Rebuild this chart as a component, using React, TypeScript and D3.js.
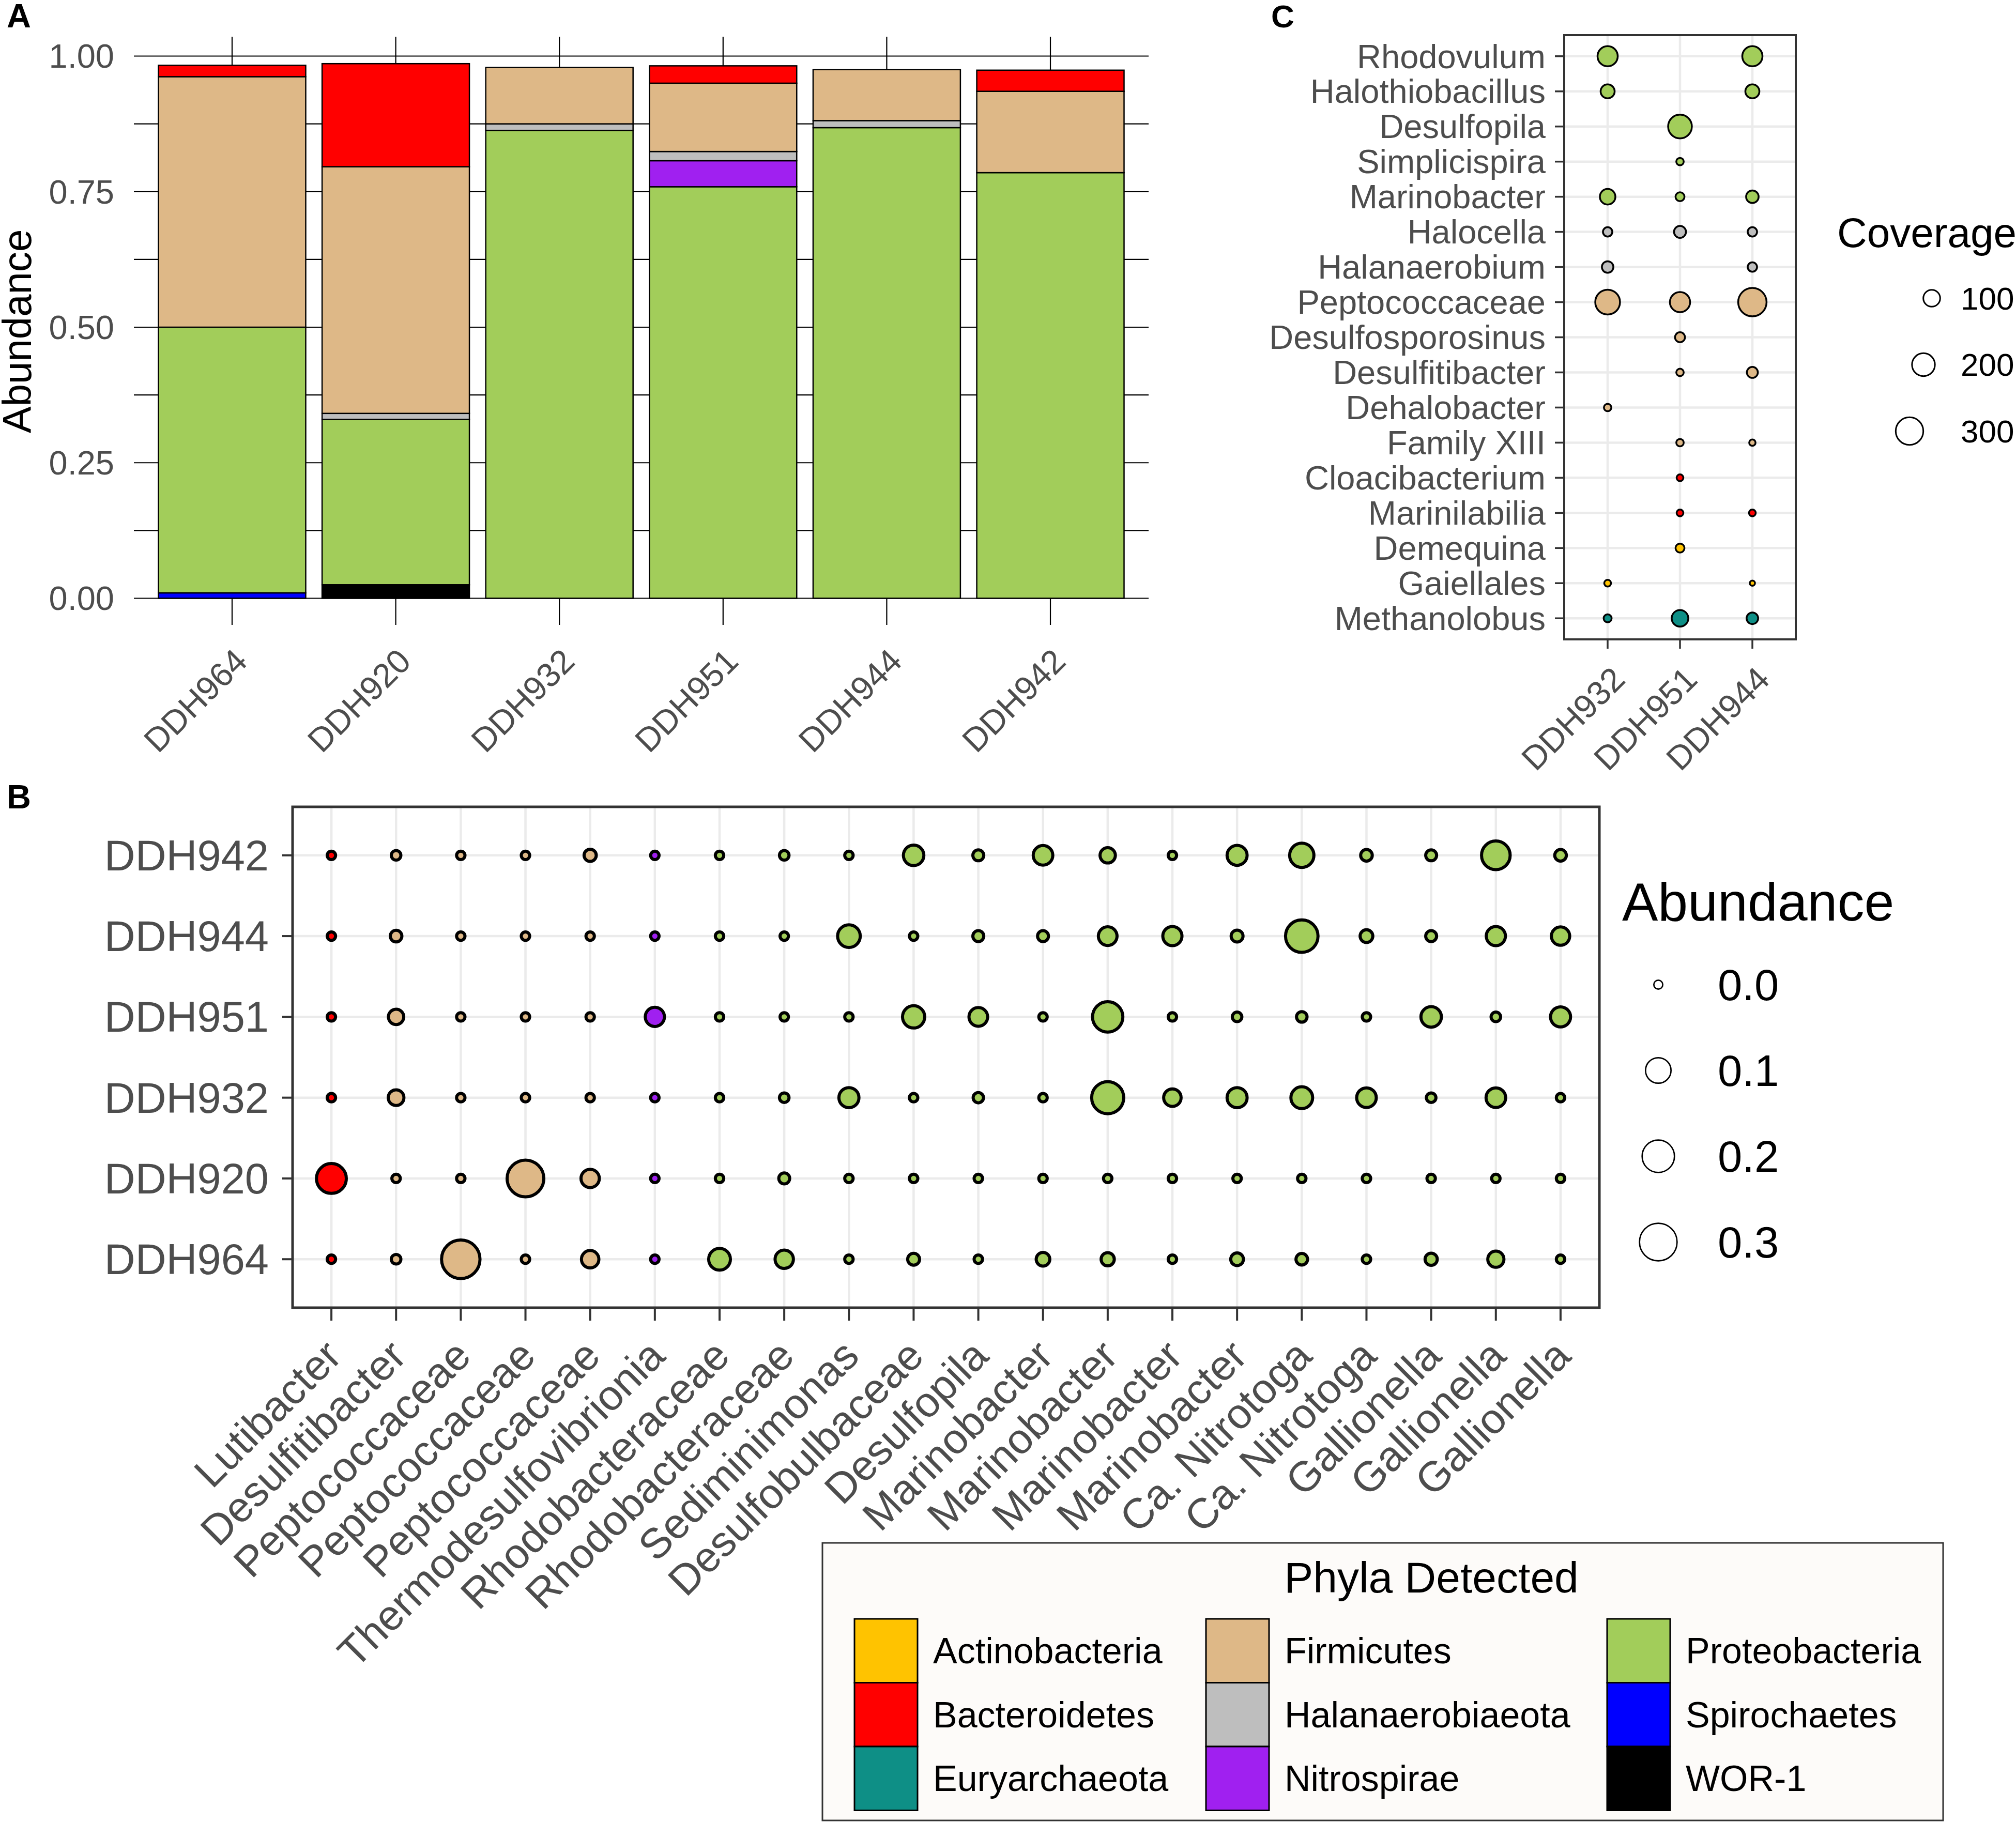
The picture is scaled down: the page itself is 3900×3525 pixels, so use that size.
import React from 'react';
import * as d3 from 'd3';

// ---------- shared ----------
const phyla = ['Actinobacteria', 'Bacteroidetes', 'Euryarchaeota', 'Firmicutes', 'Halanaerobiaeota', 'Nitrospirae', 'Proteobacteria', 'Spirochaetes', 'WOR-1'];
const phylaColors = ['#FFC300', '#FF0000', '#0E8F86', '#DEB887', '#BEBEBE', '#A020F0', '#A2CD5A', '#0000FF', '#000000'];

// ---------- panel A: stacked abundance ----------
const samplesA = ['DDH964', 'DDH920', 'DDH932', 'DDH951', 'DDH944', 'DDH942'];
const actinobacteriaA = [0, 0, 0, 0, 0, 0];
const bacteroidetesA = [0.021, 0.19, 0, 0.032, 0, 0.039];
const euryarchaeotaA = [0, 0, 0, 0, 0, 0];
const firmicutesA = [0.462, 0.455, 0.104, 0.126, 0.094, 0.15];
const halanaerobiaeotaA = [0, 0.011, 0.012, 0.017, 0.013, 0];
const nitrospiraeA = [0, 0, 0, 0.048, 0, 0];
const proteobacteriaA = [0.49, 0.305, 0.863, 0.759, 0.868, 0.785];
const spirochaetesA = [0.01, 0, 0, 0, 0, 0];
const wor1A = [0, 0.025, 0, 0, 0, 0];
const yTicksA = [0, 0.25, 0.5, 0.75, 1];

// ---------- panel B: abundance bubbles ----------
const samplesB = ['DDH942', 'DDH944', 'DDH951', 'DDH932', 'DDH920', 'DDH964'];
const taxaB = ['Lutibacter', 'Desulfitibacter', 'Peptococcaceae', 'Peptococcaceae', 'Peptococcaceae', 'Thermodesulfovibrionia',
  'Rhodobacteraceae', 'Rhodobacteraceae', 'Sediminimonas', 'Desulfobulbaceae', 'Desulfopila', 'Marinobacter', 'Marinobacter',
  'Marinobacter', 'Marinobacter', 'Ca. Nitrotoga', 'Ca. Nitrotoga', 'Gallionella', 'Gallionella', 'Gallionella'];
const phylumB = ['Bacteroidetes', 'Firmicutes', 'Firmicutes', 'Firmicutes', 'Firmicutes', 'Nitrospirae',
  'Proteobacteria', 'Proteobacteria', 'Proteobacteria', 'Proteobacteria', 'Proteobacteria', 'Proteobacteria', 'Proteobacteria',
  'Proteobacteria', 'Proteobacteria', 'Proteobacteria', 'Proteobacteria', 'Proteobacteria', 'Proteobacteria', 'Proteobacteria'];
const abund942 = [0.0005, 0.002, 0.0005, 0.0005, 0.009, 0.0005, 0.0005, 0.002, 0.0005, 0.064, 0.005, 0.056, 0.024, 0.0005, 0.06, 0.106, 0.007, 0.005, 0.167, 0.007];
const abund944 = [0.0005, 0.007, 0.0005, 0.0005, 0.0005, 0.0005, 0.0005, 0.0005, 0.087, 0.0005, 0.005, 0.005, 0.048, 0.052, 0.008, 0.233, 0.011, 0.005, 0.052, 0.045];
const abund951 = [0.0005, 0.024, 0.0005, 0.0005, 0.0005, 0.052, 0.0005, 0.0005, 0.0005, 0.082, 0.048, 0.0005, 0.195, 0.0005, 0.002, 0.004, 0.0005, 0.064, 0.002, 0.06];
const abund932 = [0.0005, 0.026, 0.0005, 0.0005, 0.0005, 0.0005, 0.0005, 0.002, 0.06, 0.0005, 0.0035, 0.0005, 0.225, 0.038, 0.06, 0.077, 0.056, 0.002, 0.056, 0.0005];
const abund920 = [0.187, 0.0005, 0.0005, 0.318, 0.045, 0.0005, 0.0005, 0.005, 0.0005, 0.0005, 0.0005, 0.0005, 0.0005, 0.0005, 0.0005, 0.0005, 0.0005, 0.0005, 0.0005, 0.0005];
const abund964 = [0.0005, 0.002, 0.356, 0.0005, 0.038, 0.0005, 0.077, 0.045, 0.0005, 0.008, 0.0005, 0.015, 0.013, 0.0005, 0.011, 0.007, 0.0005, 0.009, 0.029, 0.0005];
const abundLegend = [0, 0.1, 0.2, 0.3];

// ---------- panel C: coverage bubbles ----------
const samplesC = ['DDH932', 'DDH951', 'DDH944'];
const taxaC = ['Rhodovulum', 'Halothiobacillus', 'Desulfopila', 'Simplicispira', 'Marinobacter', 'Halocella', 'Halanaerobium',
  'Peptococcaceae', 'Desulfosporosinus', 'Desulfitibacter', 'Dehalobacter', 'Family XIII', 'Cloacibacterium', 'Marinilabilia',
  'Demequina', 'Gaiellales', 'Methanolobus'];
const phylumC = ['Proteobacteria', 'Proteobacteria', 'Proteobacteria', 'Proteobacteria', 'Proteobacteria', 'Halanaerobiaeota',
  'Halanaerobiaeota', 'Firmicutes', 'Firmicutes', 'Firmicutes', 'Firmicutes', 'Firmicutes', 'Bacteroidetes', 'Bacteroidetes',
  'Actinobacteria', 'Actinobacteria', 'Euryarchaeota'];
const coverage932 = [155, 68, null, null, 86, 26, 43, 242, null, null, 14, null, null, null, null, 11, 17];
const coverage951 = [null, null, 221, 14, 23, 47, null, 155, 30, 14, null, 14, 11, 11, 23, null, 100];
const coverage944 = [155, 68, null, null, 52, 26, 26, 325, null, 38, null, 9, null, 11, null, 5, 43];
const coverageLegend = [100, 200, 300];

const FONT = '"Liberation Sans", Arial, Helvetica, sans-serif';
const GREY_TXT = '#4D4D4D';
const color = d3.scaleOrdinal<string, string>().domain(phyla).range(phylaColors);

// rotated (-45deg) label whose top-right corner sits at (x, y)
const RotLabel = ({ x, y, fs, text }: { x: number; y: number; fs: number; text: string }) => {
  const k = 0.707 * 0.72 * fs;
  return (
    <text transform={`translate(${x + k},${y + k}) rotate(-45)`} textAnchor="end" fontSize={fs} fill={GREY_TXT}>
      {text}
    </text>
  );
};

const PanelA = () => {
  const left = 259, right = 2222, top = 71, bottom = 1209;
  const x = d3.scalePoint<string>().domain(samplesA).range([left, right]).padding(0.6);
  const y = d3.scaleLinear().domain([0, 1]).range([1157.5, 108.5]);
  const bw = x.step() * 0.9;
  const byPhylum: Record<string, number[]> = {
    Actinobacteria: actinobacteriaA, Bacteroidetes: bacteroidetesA, Euryarchaeota: euryarchaeotaA,
    Firmicutes: firmicutesA, Halanaerobiaeota: halanaerobiaeotaA, Nitrospirae: nitrospiraeA,
    Proteobacteria: proteobacteriaA, Spirochaetes: spirochaetesA, 'WOR-1': wor1A,
  };
  const table = samplesA.map((s, i) => {
    const row: Record<string, any> = { sample: s };
    phyla.forEach(p => { row[p] = byPhylum[p][i]; });
    return row;
  });
  const series = d3.stack<Record<string, any>>().keys([...phyla].reverse())(table);
  const grid = d3.range(0, 1.0001, 0.125);
  return (
    <g>
      <text x={13} y={53} fontSize={65} fontWeight="bold">A</text>
      {grid.map(v => (
        <line key={v} x1={left} x2={right} y1={y(v)} y2={y(v)} stroke="#000" strokeWidth={2.2} />
      ))}
      {samplesA.map(s => (
        <line key={s} x1={x(s)} x2={x(s)} y1={top} y2={bottom} stroke="#000" strokeWidth={2.2} />
      ))}
      {series.map(ser => ser.map((d, i) => (d[1] - d[0] > 0 ? (
        <rect key={ser.key + i} x={(x(samplesA[i]) as number) - bw / 2} y={y(d[1])} width={bw}
          height={y(d[0]) - y(d[1])} fill={color(ser.key)} stroke="#000" strokeWidth={2.5} />
      ) : null)))}
      {yTicksA.map(v => (
        <text key={v} x={221} y={y(v)} dy="0.35em" textAnchor="end" fontSize={65} fill={GREY_TXT}>{v.toFixed(2)}</text>
      ))}
      {samplesA.map(s => <RotLabel key={s} x={x(s) as number} y={1250} fs={65} text={s} />)}
      <text transform="translate(60,641) rotate(-90)" textAnchor="middle" fontSize={78}>Abundance</text>
    </g>
  );
};

const PanelB = () => {
  const left = 566, right = 3094, top = 1561, bottom = 2530;
  const cols = taxaB.map((_, i) => String(i));
  const x = d3.scalePoint<string>().domain(cols).range([left, right]).padding(0.6);
  const y = d3.scalePoint<string>().domain(samplesB).range([top, bottom]).padding(0.6);
  const r = d3.scaleSqrt().domain([0, 1]).range([10, 60.6]);
  const values: Record<string, number[]> = {
    DDH942: abund942, DDH944: abund944, DDH951: abund951, DDH932: abund932, DDH920: abund920, DDH964: abund964,
  };
  const sw = 6;
  return (
    <g>
      <text x={13} y={1564} fontSize={65} fontWeight="bold">B</text>
      {cols.map(c => <line key={'v' + c} x1={x(c)} x2={x(c)} y1={top} y2={bottom} stroke="#EBEBEB" strokeWidth={4.5} />)}
      {samplesB.map(s => <line key={'h' + s} x1={left} x2={right} y1={y(s)} y2={y(s)} stroke="#EBEBEB" strokeWidth={4.5} />)}
      {samplesB.map(s => values[s].map((v, i) => (
        <circle key={s + i} cx={x(String(i))} cy={y(s)} r={r(v) - sw / 2} fill={color(phylumB[i])} stroke="#000" strokeWidth={sw} />
      )))}
      <rect x={left} y={top} width={right - left} height={bottom - top} fill="none" stroke="#333" strokeWidth={5} />
      {samplesB.map(s => (
        <g key={'t' + s}>
          <line x1={left - 20} x2={left} y1={y(s)} y2={y(s)} stroke="#333" strokeWidth={4} />
          <text x={520} y={y(s)} dy="0.35em" textAnchor="end" fontSize={83} fill={GREY_TXT}>{s}</text>
        </g>
      ))}
      {cols.map(c => (
        <g key={'xt' + c}>
          <line x1={x(c)} x2={x(c)} y1={bottom} y2={bottom + 25} stroke="#333" strokeWidth={4} />
          <RotLabel x={(x(c) as number) - 18} y={2586} fs={82} text={taxaB[+c]} />
        </g>
      ))}
      {/* size legend */}
      <text x={3138} y={1781} fontSize={104}>Abundance</text>
      {abundLegend.map((v, i) => (
        <g key={'lg' + v}>
          <circle cx={3208} cy={1905 + i * 166} r={r(v) - 1.35} fill="none" stroke="#000" strokeWidth={2.7} />
          <text x={3323} y={1905 + i * 166} dy="0.35em" fontSize={85}>{v.toFixed(1)}</text>
        </g>
      ))}
    </g>
  );
};

const PanelC = () => {
  const left = 3026, right = 3474, top = 68, bottom = 1237;
  const x = d3.scalePoint<string>().domain(samplesC).range([left, right]).padding(0.6);
  const y = d3.scalePoint<string>().domain(taxaC).range([top, bottom]).padding(0.6);
  const r = d3.scaleSqrt().domain([0, 400]).range([3.6, 3.6 + 1.42 * 20]);
  const values: Record<string, (number | null)[]> = { DDH932: coverage932, DDH951: coverage951, DDH944: coverage944 };
  const sw = 3.5;
  const legendX = [3737, 3721, 3694];
  return (
    <g>
      <text x={2459} y={53} fontSize={62} fontWeight="bold">C</text>
      {samplesC.map(s => <line key={'v' + s} x1={x(s)} x2={x(s)} y1={top} y2={bottom} stroke="#EBEBEB" strokeWidth={4.5} />)}
      {taxaC.map(t => <line key={'h' + t} x1={left} x2={right} y1={y(t)} y2={y(t)} stroke="#EBEBEB" strokeWidth={4.5} />)}
      {samplesC.map(s => values[s].map((v, i) => (v == null ? null : (
        <circle key={s + i} cx={x(s)} cy={y(taxaC[i])} r={r(v) - sw / 2} fill={color(phylumC[i])} stroke="#000" strokeWidth={sw} />
      ))))}
      <rect x={left} y={top} width={right - left} height={bottom - top} fill="none" stroke="#333" strokeWidth={4} />
      {taxaC.map(t => (
        <g key={'t' + t}>
          <line x1={left - 18} x2={left} y1={y(t)} y2={y(t)} stroke="#333" strokeWidth={3.5} />
          <text x={2990} y={y(t)} dy="0.35em" textAnchor="end" fontSize={65} fill={GREY_TXT}>{t}</text>
        </g>
      ))}
      {samplesC.map(s => (
        <g key={'xt' + s}>
          <line x1={x(s)} x2={x(s)} y1={bottom} y2={bottom + 18} stroke="#333" strokeWidth={3.5} />
          <RotLabel x={(x(s) as number) + 4} y={1285} fs={65} text={s} />
        </g>
      ))}
      <text x={3554} y={478} fontSize={80}>Coverage</text>
      {coverageLegend.map((v, i) => (
        <g key={'lg' + v}>
          <circle cx={legendX[i]} cy={577 + i * 128.5} r={r(v) - 1.5} fill="none" stroke="#000" strokeWidth={3} />
          <text x={3793} y={577 + i * 128.5} dy="0.35em" fontSize={62}>{v}</text>
        </g>
      ))}
    </g>
  );
};

const PhylaLegend = () => {
  const colX = [1653, 2333, 3109];
  const keyW = 122, keyH = 123.5, top = 3132;
  return (
    <g>
      <rect x={1591} y={2985} width={2168} height={537} fill="#FDFBF9" stroke="#333" strokeWidth={3} />
      <text x={2769} y={3081} textAnchor="middle" fontSize={84}>Phyla Detected</text>
      {phyla.map((p, i) => {
        const c = Math.floor(i / 3), rw = i % 3;
        const ky = top + rw * keyH;
        return (
          <g key={p}>
            <rect x={colX[c]} y={ky} width={keyW} height={keyH} fill={color(p)} stroke="#000" strokeWidth={3} />
            <text x={colX[c] + 152} y={ky + keyH / 2} dy="0.35em" fontSize={70}>{p}</text>
          </g>
        );
      })}
    </g>
  );
};

export default function App() {
  return (
    <svg width={3900} height={3525} style={{ position: 'absolute', left: 0, top: 0, background: '#fff' }} fontFamily={FONT}>
      <rect width={3900} height={3525} fill="#fff" />
      <PanelA />
      <PanelC />
      <PanelB />
      <PhylaLegend />
    </svg>
  );
}
